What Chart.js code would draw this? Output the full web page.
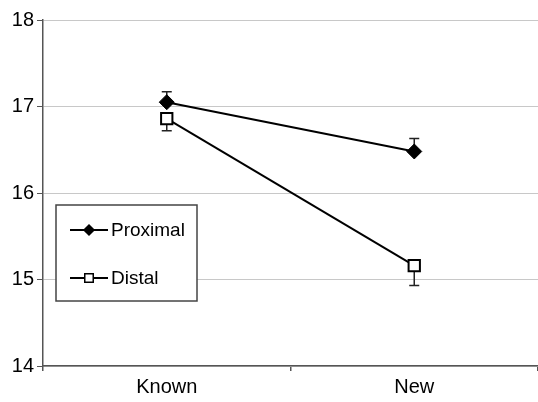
<!DOCTYPE html>
<html>
<head>
<meta charset="utf-8">
<script src="https://cdn.jsdelivr.net/npm/chart.js@4.4.1/dist/chart.umd.min.js"></script>
<style>
  html, body { margin: 0; padding: 0; background: #fff; overflow: hidden; }
  canvas { display: block; }
</style>
</head>
<body>
<canvas id="c" width="538" height="402"></canvas>
<script>
// categories and series
const categories = ['Known', 'New'];
const proximal    = [17.05, 16.48];
const proximalErr = [0.12, 0.15];
const distal      = [16.86, 15.16];
const distalErr   = [0.14, 0.23];
const yTicks      = [14, 15, 16, 17, 18];

const FONT = 'Liberation Sans, Arial, sans-serif';

// one-sided error bars (Proximal up, Distal down), drawn through the y scale
const errorBars = {
  id: 'errorBars',
  beforeDatasetsDraw(chart) {
    const { ctx, scales: { y } } = chart;
    ctx.save();
    ctx.strokeStyle = '#222';
    ctx.lineWidth = 1.5;
    chart.data.datasets.forEach((ds, i) => {
      const meta = chart.getDatasetMeta(i);
      meta.data.forEach((pt, j) => {
        const v = ds.data[j], e = ds.err[j] * ds.errDir;
        const yEnd = y.getPixelForValue(v + e);
        ctx.beginPath();
        ctx.moveTo(pt.x, pt.y); ctx.lineTo(pt.x, yEnd);
        ctx.moveTo(pt.x - 5, yEnd); ctx.lineTo(pt.x + 5, yEnd);
        ctx.stroke();
      });
    });
    ctx.restore();
  }
};

// boxed legend inside the plot
const boxLegend = {
  id: 'boxLegend',
  afterDraw(chart) {
    const { ctx, chartArea } = chart;
    const x0 = chartArea.left + 13, y0 = 205, w = 141, h = 96;
    ctx.save();
    ctx.fillStyle = '#fff';
    ctx.fillRect(x0, y0, w, h);
    ctx.strokeStyle = '#444';
    ctx.lineWidth = 1.5;
    ctx.strokeRect(x0, y0, w, h);
    chart.data.datasets.forEach((ds, i) => {
      const cy = y0 + 25 + i * 48;
      ctx.strokeStyle = '#000';
      ctx.lineWidth = 2;
      ctx.beginPath();
      ctx.moveTo(x0 + 14, cy); ctx.lineTo(x0 + 52, cy);
      ctx.stroke();
      ctx.fillStyle = ds.pointBackgroundColor;
      ctx.lineWidth = 1.5;
      Chart.helpers.drawPoint(ctx, {
        pointStyle: ds.pointStyle,
        radius: ds.pointStyle === 'rectRot' ? 5 : 6,
        borderWidth: 1.5
      }, x0 + 33, cy);
      ctx.fillStyle = '#000';
      ctx.font = '19px ' + FONT;
      ctx.textBaseline = 'middle';
      ctx.fillText(ds.label, x0 + 55, cy + 1);
    });
    ctx.restore();
  }
};

new Chart(document.getElementById('c'), {
  type: 'line',
  data: {
    labels: categories,
    datasets: [
      { label: 'Proximal', data: proximal, err: proximalErr, errDir: 1,
        borderColor: '#000', borderWidth: 2,
        pointStyle: 'rectRot', pointRadius: 7.5,
        pointBackgroundColor: '#000', pointBorderColor: '#000', pointBorderWidth: 1 },
      { label: 'Distal', data: distal, err: distalErr, errDir: -1,
        borderColor: '#000', borderWidth: 2,
        pointStyle: 'rect', pointRadius: 8,
        pointBackgroundColor: '#fff', pointBorderColor: '#000', pointBorderWidth: 2 }
    ]
  },
  options: {
    responsive: false, animation: false,
    layout: { autoPadding: false, padding: { top: 20, right: 0, left: 0, bottom: 0 } },
    plugins: { legend: { display: false }, tooltip: { enabled: false } },
    scales: {
      x: {
        offset: true,
        afterFit: s => { s.height = 36; s.paddingLeft = 0; s.paddingRight = 0; },
        grid: { offset: true, drawOnChartArea: false, tickLength: 5, tickColor: '#555', lineWidth: 1.5 },
        border: { color: '#555', width: 1.5 },
        ticks: { color: '#000', font: { family: FONT, size: 20 }, padding: 4 }
      },
      y: {
        min: 14, max: 18,
        afterFit: s => { s.width = 43; s.paddingTop = 0; s.paddingBottom = 0; },
        afterBuildTicks: s => { s.ticks = yTicks.map(v => ({ value: v })); },
        grid: { color: '#c8c8c8', lineWidth: 1, tickLength: 6, tickColor: '#555' },
        border: { color: '#555', width: 1.5 },
        ticks: { color: '#000', font: { family: FONT, size: 20 }, padding: 3 }
      }
    }
  },
  plugins: [errorBars, boxLegend]
});
</script>
</body>
</html>
